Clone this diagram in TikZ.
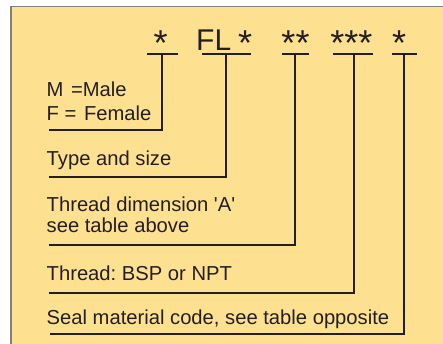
\documentclass[tikz,border=0pt]{standalone}
\usepackage{fontspec}
\setmainfont{Liberation Sans}
\definecolor{panel}{RGB}{254,224,145}
\definecolor{rim}{RGB}{128,128,128}
\definecolor{ink}{RGB}{35,31,32}
\frenchspacing
\begin{document}
\begin{tikzpicture}[x=1pt,y=-1pt,
  lbl/.style={anchor=base west,inner sep=0pt,text=ink,font=\fontsize{20.2}{24}\selectfont},
  code/.style={anchor=base,inner sep=0pt,text=ink,font=\fontsize{30}{36}\selectfont},
  star/.style={anchor=base,inner sep=0pt,text=ink,font=\fontsize{36}{40}\selectfont},
  bar/.style={draw=ink,line width=2pt},
  lead/.style={draw=ink,line width=2pt,line join=miter}]
\useasboundingbox (0,0) rectangle (443,343);
% panel
\fill[white] (0,0) rectangle (443,343);
\fill[panel] (11,6.7) rectangle (445,345);
\draw[rim,line width=1.5pt] (11,345) -- (11,6.7) -- (445,6.7);

% code characters
\node[star] (s1) at (160.7,55.8) {*};
\node[code,anchor=base west] (fl) at (196,50) {FL};
\node[star] (s2) at (245,55.8) {*};
\node[star] (s3) at (295.5,55.8) {**};
\node[star] (s4) at (351.3,55.8) {***};
\node[star] (s5) at (399,55.8) {*};

% bars under the code
\coordinate (b1) at (162,54.3);
\coordinate (b2) at (226,54.3);
\coordinate (b3) at (295,54.3);
\coordinate (b4) at (354.3,54.3);
\coordinate (b5) at (404,54.3);
\draw[bar] (147.3,54.3) -- (178.3,54.3);
\draw[bar] (202.3,54.3) -- (250.7,54.3);
\draw[bar] (281.7,54.3) -- (309,54.3);
\draw[bar] (333.3,54.3) -- (373.3,54.3);
\draw[bar] (391.7,54.3) -- (417.3,54.3);

% labels
\node[lbl] (m) at (46.5,96.7) {M\hspace{2pt} =Male};
\node[lbl] (f) at (46.5,120) {F = \hspace{2pt}Female};
\node[lbl] (t) at (46.5,165) {Type and size};
\node[lbl] (d1) at (46.5,211.5) {Thread dimension \textquotesingle A\textquotesingle};
\node[lbl] (d2) at (46.5,232) {see table above};
\node[lbl] (th) at (46.5,280.7) {Thread: BSP or NPT};
\node[lbl] (se) at (46.5,324) {Seal material code, see table opposite};

% leader ends
\coordinate (e1) at (49,130);
\coordinate (e2) at (49,176.7);
\coordinate (e3) at (49,245);
\coordinate (e4) at (49,293);
\coordinate (e5) at (50,334);

\draw[lead] (b1) |- (e1);
\draw[lead] (b2) |- (e2);
\draw[lead] (b3) |- (e3);
\draw[lead] (b4) |- (e4);
\draw[lead] (b5) |- (e5);
\end{tikzpicture}
\end{document}
